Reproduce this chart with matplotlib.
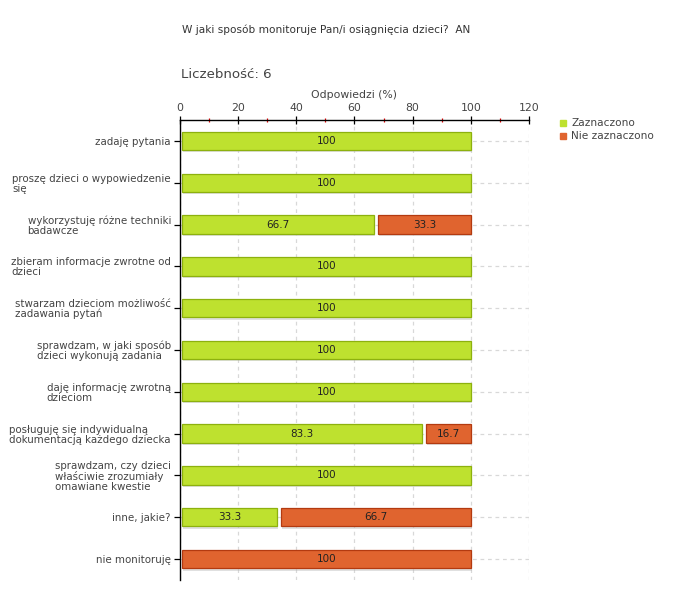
import matplotlib
matplotlib.use("Agg")
import matplotlib.pyplot as plt
import matplotlib.patheffects as pe
from matplotlib.ticker import MultipleLocator

categories = [
    "zadaję pytania",
    "proszę dzieci o wypowiedzenie\nsię",
    "wykorzystuję różne techniki\nbadawcze",
    "zbieram informacje zwrotne od\ndzieci",
    "stwarzam dzieciom możliwość\nzadawania pytań",
    "sprawdzam, w jaki sposób\ndzieci wykonują zadania",
    "daję informację zwrotną\ndzieciom",
    "posługuję się indywidualną\ndokumentacją każdego dziecka",
    "sprawdzam, czy dzieci\nwłaściwie zrozumiały\nomawiane kwestie",
    "inne, jakie?",
    "nie monitoruję",
]
zaznaczono = [100, 100, 66.7, 100, 100, 100, 100, 83.3, 100, 33.3, 0]
nie_zaznaczono = [0, 0, 33.3, 0, 0, 0, 0, 16.7, 0, 66.7, 100]
series_names = ["Zaznaczono", "Nie zaznaczono"]
x_ticks = [0, 20, 40, 60, 80, 100, 120]
title = "W jaki sposób monitoruje Pan/i osiągnięcia dzieci?  AN"
count_label = "Liczebność: 6"
x_label = "Odpowiedzi (%)"

green, green_edge = "#bee12f", "#8db10e"
orange, orange_edge = "#e0642f", "#b33a10"
text_col = "#444444"

fig = plt.figure(figsize=(6.8, 6.0), dpi=100)
ax = fig.add_axes([180 / 680, 1 - 580 / 600, (529 - 180) / 680, 460 / 600])

start_off = 0.7
gap = 1.3
h = 0.44
shadow = [pe.SimplePatchShadow(offset=(0.8, -1.6), shadow_rgbFace="#bbbbbb", alpha=0.45), pe.Normal()]

ypos = list(range(len(categories)))
for i, (g, o) in enumerate(zip(zaznaczono, nie_zaznaczono)):
    if g > 0:
        b = ax.barh(i, g - start_off, left=start_off, height=h, color=green,
                    edgecolor=green_edge, linewidth=0.9, zorder=3)
        b[0].set_path_effects(shadow)
        ax.text(start_off + (g - start_off) / 2, i, f"{g:g}", ha="center", va="center",
                fontsize=7.5, color="#222222", zorder=5)
    if o > 0:
        left = g + gap if g > 0 else start_off
        right = g + o
        b = ax.barh(i, right - left, left=left, height=h, color=orange,
                    edgecolor=orange_edge, linewidth=0.9, zorder=3)
        b[0].set_path_effects(shadow)
        ax.text(left + (right - left) / 2, i, f"{o:g}", ha="center", va="center",
                fontsize=7.5, color="#222222", zorder=5)

ax.set_xlim(0, 120)
ax.set_ylim(len(categories) - 0.5, -0.5)
ax.set_yticks(ypos)
ax.set_yticklabels(categories, fontsize=7.4, color=text_col, linespacing=1.0,
                   multialignment="left")
ax.xaxis.tick_top()
ax.xaxis.set_label_position("top")
ax.set_xticks(x_ticks)
ax.xaxis.set_minor_locator(MultipleLocator(10))
ax.tick_params(axis="x", which="major", direction="inout", length=6, width=0.9,
               labelsize=7.8, labelcolor=text_col, pad=2)
ax.tick_params(axis="x", which="minor", direction="inout", length=3.5, width=0.9, color="#e00000")
ax.tick_params(axis="y", direction="out", length=4, width=0.9, pad=2.5)
ax.set_xlabel(x_label, fontsize=7.8, color=text_col, labelpad=4)

for s in ["right", "bottom"]:
    ax.spines[s].set_visible(False)
ax.spines["top"].set_linewidth(1.0)
ax.spines["left"].set_linewidth(1.0)

ax.grid(axis="x", which="major", color="#d8d8d8", linestyle=(0, (3, 3)), linewidth=0.9, zorder=0)
ax.grid(axis="y", color="#d8d8d8", linestyle=(0, (3, 3)), linewidth=0.9, zorder=0)
ax.set_axisbelow(True)

fig.text(182 / 680, 1 - 30 / 600, title, fontsize=7.6, color="#333333", ha="left", va="center")
fig.text(181 / 680, 1 - 75 / 600, count_label, fontsize=9.6, color=text_col, ha="left", va="center")

# legend
for k, (name, col) in enumerate(zip(series_names, [green, orange])):
    yy = 1 - (123 + 13 * k) / 600
    fig.patches.append(plt.Rectangle((560 / 680, yy - 3 / 600), 6 / 680, 6 / 600,
                                     transform=fig.transFigure, color=col, figure=fig))
    fig.text(571 / 680, yy, name, fontsize=7.6, color=text_col, ha="left", va="center")

fig.savefig("out.png", dpi=100)
